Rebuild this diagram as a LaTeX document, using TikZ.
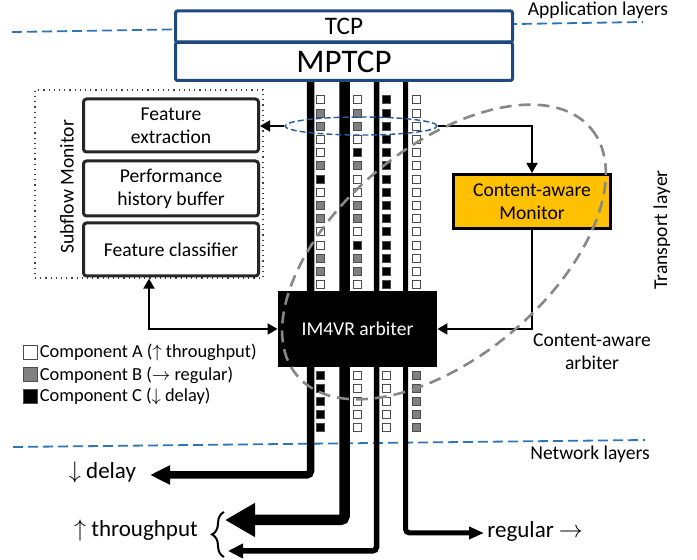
\documentclass[tikz,border=0pt]{standalone}
\usepackage{fontspec}
\setmainfont{Carlito}
\usetikzlibrary{arrows.meta,shapes.geometric,decorations.pathreplacing}

\definecolor{tcpblue}{RGB}{31,73,125}
\definecolor{layerblue}{RGB}{46,117,182}
\definecolor{selblue}{RGB}{36,90,160}
\definecolor{camorange}{RGB}{255,192,0}
\definecolor{boxgray}{RGB}{38,38,38}
\definecolor{ovalgray}{RGB}{135,135,135}
\definecolor{sqw}{RGB}{255,255,255}
\definecolor{sqg}{RGB}{128,128,128}
\definecolor{sqb}{RGB}{0,0,0}

\begin{document}
\begin{tikzpicture}[x=0.5pt, y=-0.5pt,
	lbl/.style={font=\fontsize{9.8}{11.5}\selectfont, align=center, inner sep=0pt},
	legl/.style={font=\fontsize{9.2}{11}\selectfont, inner sep=0pt, anchor=west},
	bigl/.style={font=\fontsize{11.5}{13}\selectfont, inner sep=0pt},
	featbox/.style={draw=boxgray, line width=1.5pt, rounded corners=1.5pt, minimum width=87.5pt, lbl},
	conn/.style={line width=0.9pt, -{Triangle[length=5pt, width=5.5pt]}},
	layerline/.style={layerblue, line width=0.9pt, dash pattern=on 5pt off 2.5pt},
	sq/.style={draw=black!70, line width=0.5pt},
	subflow/.style={rounded corners=2pt}
]

	\useasboundingbox (0,0) rectangle (697,560);

	\draw[layerline] (12,32) -- (643,22);
	\draw[layerline] (13,447) -- (645,440);

	% subflows
	\coordinate (sf1) at (310.5,78);
	\coordinate (sf2) at (344.5,78);
	\coordinate (sf3) at (376.5,78);
	\coordinate (sf4) at (405.5,78);
	\coordinate (dly) at (150,475);
	\coordinate (thr1) at (225,520);
	\coordinate (thr2) at (228,551);
	\coordinate (reg) at (484,533);

	\draw[subflow, line width=3.75pt, -{Triangle[length=10pt, width=9pt]}] (sf1) |- (dly);
	\draw[subflow, line width=5.25pt, -{Triangle[length=15pt, width=16pt]}] (sf2) |- (thr1);
	\draw[subflow, line width=2.75pt, -{Triangle[length=7.5pt, width=7pt]}] (sf3) |- (thr2);
	\draw[subflow, line width=2.5pt, -{Triangle[length=7.5pt, width=6pt]}] (sf4) |- (reg);

	\foreach \c [count=\i from 0] in {w,g,g,w,w,g,b,w,g,g,w,w,g,g,w}
		\draw[sq, fill=sq\c] (316.5,{96+13.2*\i}) rectangle ++(8,8);
	\foreach \c [count=\i from 0] in {w,g,g,w,b,g,w,w,g,g,w,b,g,g,w}
		\draw[sq, fill=sq\c] (353,{96+13.2*\i}) rectangle ++(8,8);
	\foreach \i in {0,...,14} {
		\draw[sq, fill=sqb] (382,{96+13.2*\i}) rectangle ++(8,8);
		\draw[sq, fill=sqw] (412,{96+13.2*\i}) rectangle ++(8,8);
	}
	\foreach \i in {0,...,4} {
		\draw[sq, fill=sqb] (316.5,{371.5+12.9*\i}) rectangle ++(8,8);
		\draw[sq, fill=sqw] (353,{371.5+12.9*\i}) rectangle ++(8,8);
		\draw[sq, fill=sqw] (382,{371.5+12.9*\i}) rectangle ++(8,8);
		\draw[sq, fill=sqg] (412,{371.5+12.9*\i}) rectangle ++(8,8);
	}

	\node [draw=tcpblue, line width=1.5pt, fill=white, rounded corners=1pt, minimum width=168.5pt, minimum height=15.5pt, inner sep=0pt, font=\fontsize{12.6}{14}\selectfont] (tcp) at (344,26.5) {TCP};
	\node [draw=tcpblue, line width=1.5pt, fill=white, rounded corners=1pt, minimum width=168.5pt, minimum height=19pt, inner sep=0pt, font=\fontsize{16.5}{18}\selectfont] (mptcp) at (344,61.5) {MPTCP};

	\node [draw=black!75, dotted, line width=0.6pt, minimum width=114pt, minimum height=94pt] (smon) at (149,184) {};
	\node [lbl, rotate=90] (smonlbl) at (67,187) {Subflow Monitor};
	\node [featbox, minimum height=26.5pt] (featext) at (171,125.5) {Feature\\extraction};
	\node [featbox, minimum height=27.5pt] (perfbuf) at (171,188.5) {Performance\\history buffer};
	\node [featbox, minimum height=26.5pt] (featcls) at (171,249.5) {Feature classifier};

	\node [lbl, fill=black, text=white, minimum width=79.5pt, minimum height=38pt] (arb) at (357.5,329) {IM4VR arbiter};
	\node [lbl, draw=black, fill=camorange, line width=1.5pt, minimum width=78.5pt, minimum height=27pt] (cam) at (532,201.5) {Content-aware\\Monitor};

	\node [ellipse, draw=selblue, line width=0.7pt, dash pattern=on 3pt off 1.5pt, minimum width=76pt, minimum height=9pt, inner sep=0pt] (sel) at (361,126) {};

	\draw[conn] (sel.west) -- (sel.west -| featext.east);
	\draw[conn] (sel.east) -| (cam.north);
	\draw[conn] (cam.south) |- (arb.east);
	\draw[line width=0.9pt, {Triangle[length=5pt, width=5.5pt]}-{Triangle[length=5pt, width=5.5pt]}] (smon.south) |- (arb.west);

	\draw[ovalgray, line width=1.3pt, dash pattern=on 6pt off 3.5pt, rotate around={40:(444,252)}] (444,252) ellipse [x radius=192, y radius=105];

	\node [lbl] (caarb) at (592,352) {Content-aware\\arbiter};
	\node [lbl, rotate=90] (tlayer) at (662,230) {Transport layer};
	\node [lbl] (applayer) at (598,10) {Application layers};
	\node [lbl] (netlayer) at (590,454) {Network layers};

	% legend
	\foreach \c/\t [count=\i from 0] in {w/{Component A ($\uparrow$ throughput)}, g/{Component B ($\rightarrow$ regular)}, b/{Component C ($\downarrow$ delay)}} {
		\node [sq, fill=sq\c, minimum size=7pt, inner sep=0pt] (legsq\i) at (30,{353+22*\i}) {};
		\node [legl] (legtxt\i) at ([xshift=1pt]legsq\i.east) {\t};
	}

	\node [bigl] (dlylbl) at (102.5,473) {$\downarrow$ delay};
	\node [bigl] (thrlbl) at (136,531) {$\uparrow$ throughput};
	\node [bigl, anchor=west] (reglbl) at (487,531) {regular $\rightarrow$};
	\draw[line width=1pt, decorate, decoration={brace, amplitude=6pt}] (224,557) -- (224,512);

\end{tikzpicture}
\end{document}
